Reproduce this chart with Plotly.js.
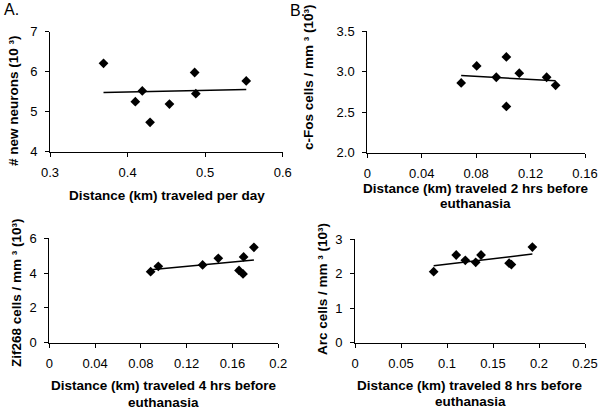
<!DOCTYPE html>
<html><head><meta charset="utf-8">
<script src="https://cdn.plot.ly/plotly-3.0.1.min.js"></script>
<style>body{margin:0;background:#fff}#chart{width:601px;height:411px}</style>
</head><body><div id="chart"></div>
<script>
// Panel A
const distPerDay = [0.369, 0.41, 0.419, 0.429, 0.454, 0.4865, 0.488, 0.553];
const newNeurons = [6.21, 5.25, 5.52, 4.735, 5.19, 5.98, 5.45, 5.77];
// Panel B
const dist2h = [0.069, 0.0804, 0.0948, 0.1022, 0.1022, 0.1117, 0.1318, 0.1384];
const cFos = [2.86, 3.07, 2.93, 3.18, 2.57, 2.98, 2.93, 2.83];
// Panel C
const dist4h = [0.0885, 0.0952, 0.1339, 0.1476, 0.1657, 0.1692, 0.1697, 0.1787];
const zif268 = [4.08, 4.39, 4.47, 4.85, 4.15, 3.95, 4.93, 5.48];
// Panel D
const dist8h = [0.0855, 0.110, 0.1199, 0.1312, 0.137, 0.1675, 0.170, 0.1928];
const arc = [2.055, 2.537, 2.383, 2.325, 2.537, 2.30, 2.26, 2.768];

const panelLabels = ["A.", "B."];
const yTitles = ["# new neurons (10 ³)", "c-Fos cells / mm ³ (10³)",
                 "Zif268 cells / mm ³ (10³)", "Arc cells / mm ³ (10³)"];
const xTitles = [["Distance (km) traveled per day"],
                 ["Distance (km) traveled 2 hrs before", "euthanasia"],
                 ["Distance (km) traveled 4 hrs before", "euthanasia"],
                 ["Distance (km) traveled 8 hrs before", "euthanasia"]];

// least-squares trendline over the data's x extent
function trend(xs, ys) {
  const n = xs.length;
  const mx = xs.reduce((a, b) => a + b, 0) / n;
  const my = ys.reduce((a, b) => a + b, 0) / n;
  let sxy = 0, sxx = 0;
  for (let i = 0; i < n; i++) { sxy += (xs[i] - mx) * (ys[i] - my); sxx += (xs[i] - mx) ** 2; }
  const b = sxy / sxx, a = my - b * mx;
  const x0 = Math.min(...xs), x1 = Math.max(...xs);
  return { x: [x0, x1], y: [a + b * x0, a + b * x1] };
}

const sets = [[distPerDay, newNeurons], [dist2h, cFos], [dist4h, zif268], [dist8h, arc]];
const traces = [];
sets.forEach((s, i) => {
  const xa = i === 0 ? 'x' : 'x' + (i + 1), ya = i === 0 ? 'y' : 'y' + (i + 1);
  const t = trend(s[0], s[1]);
  traces.push({ x: t.x, y: t.y, xaxis: xa, yaxis: ya, mode: 'lines', type: 'scatter',
                line: { color: '#000', width: 1.5 }, hoverinfo: 'skip' });
  traces.push({ x: s[0], y: s[1], xaxis: xa, yaxis: ya, mode: 'markers', type: 'scatter',
                marker: { symbol: 'diamond', size: 7.5, color: '#000' } });
});

const FAM = '"Liberation Sans", Arial, sans-serif';
const W = 601, H = 411;
const px = v => v / W, py = v => (H - v) / H;
const tickFont = { family: FAM, size: 13, color: '#000' };
function ax(domain, range, dtick, extra) {
  return Object.assign({ domain: domain, range: range, dtick: dtick, tick0: 0, showgrid: false, zeroline: false,
    showline: true, linecolor: '#000', linewidth: 1, ticks: 'outside', ticklen: 4, tickcolor: '#000',
    tickfont: tickFont, fixedrange: true, ticklabelstandoff: 5 }, extra || {});
}

const layout = {
  width: W, height: H, margin: { l: 0, r: 0, t: 0, b: 0 },
  paper_bgcolor: '#fff', plot_bgcolor: '#fff', showlegend: false,
  font: { family: FAM, size: 13, color: '#000' },
  xaxis:  ax([px(50), px(282.7)], [0.3, 0.6], 0.1, { anchor: 'y' }),
  yaxis:  ax([py(151.7), py(31.7)], [4, 7], 1, { anchor: 'x' }),
  xaxis2: ax([px(367.3), px(585)], [0, 0.16], 0.04, { anchor: 'y2' }),
  yaxis2: ax([py(152.7), py(31)], [2, 3.5], 0.5, { anchor: 'x2', tickformat: '.1f' }),
  xaxis3: ax([px(49.3), px(278.3)], [0, 0.2], 0.04, { anchor: 'y3' }),
  yaxis3: ax([py(342.7), py(238.3)], [0, 6], 2, { anchor: 'x3' }),
  xaxis4: ax([px(355), px(585)], [0, 0.25], 0.05, { anchor: 'y4' }),
  yaxis4: ax([py(342.7), py(239)], [0, 3], 1, { anchor: 'x4' }),
  annotations: []
};

const titleFont = { family: FAM, size: 13.5, color: '#000', weight: 'bold' };
function note(text, x, y, font, angle) {
  layout.annotations.push({ text: text, x: px(x), y: py(y), xref: 'paper', yref: 'paper',
    xanchor: 'center', yanchor: 'middle', showarrow: false, font: font, textangle: angle || 0 });
}
const labelFont = { family: FAM, size: 16, color: '#000' };
note(panelLabels[0], 11, 10, labelFont);
note(panelLabels[1], 297, 11, labelFont);

const yTitlePos = [[13, 101], [308, 77], [16, 293], [323, 289]];
yTitles.forEach((t, i) => note(t, yTitlePos[i][0], yTitlePos[i][1], titleFont, -90));

const xTitlePos = [[167, [195]], [475.5, [188, 204]], [163.7, [385.7, 402]], [470.3, [385.7, 401.7]]];
xTitles.forEach((lines, i) => lines.forEach((t, j) =>
  note(t, xTitlePos[i][0], xTitlePos[i][1][j], titleFont)));

Plotly.newPlot('chart', traces, layout, { staticPlot: true, displayModeBar: false });
</script>
</body></html>
